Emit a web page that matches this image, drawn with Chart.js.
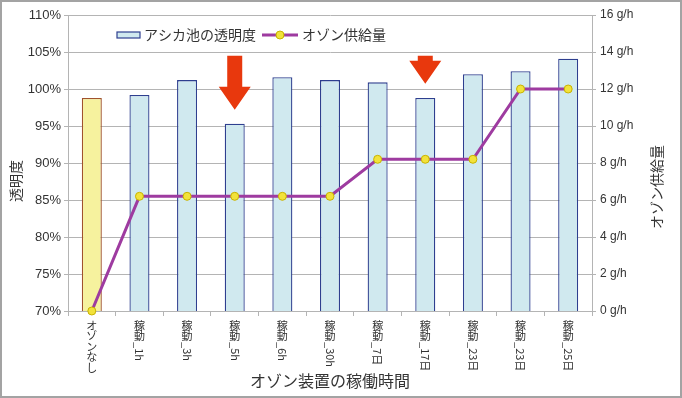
<!DOCTYPE html>
<html>
<head>
<meta charset="utf-8">
<script src="https://cdn.jsdelivr.net/npm/chart.js@4.4.1/dist/chart.umd.min.js"></script>
<style>
  html, body { margin: 0; padding: 0; background: #fff; }
  #wrap { width: 682px; height: 398px; position: relative; }
</style>
</head>
<body>
<div id="wrap"><canvas id="c" width="682" height="398"></canvas></div>
<script>
// ---- data ----
const categories = ["オゾンなし", "稼動_1h", "稼動_3h", "稼動_5h", "稼動_6h", "稼動_30h", "稼動_7日", "稼動_17日", "稼動_23日", "稼動_23日", "稼動_25日"];
const transparency = [98.8, 99.2, 101.2, 95.3, 101.6, 101.2, 100.9, 98.8, 102.0, 102.4, 104.1];
const ozoneSupply = [0, 6.2, 6.2, 6.2, 6.2, 6.2, 8.2, 8.2, 8.2, 12, 12];
const leftTicks = { min: 70, max: 110, step: 5 };
const rightTicks = { min: 0, max: 16, step: 2 };
const arrowIndexes = [3, 7];
const seriesNames = ["アシカ池の透明度", "オゾン供給量"];
const axisTitles = { x: "オゾン装置の稼働時間", y: "透明度", y1: "オゾン供給量" };

// ---- style ----
const JP = '"Noto Sans CJK JP", "Noto Sans", sans-serif';
const NUM = '"Liberation Sans", Arial, sans-serif';
const TXT = '#333333';
const GRID = '#B4B4B4';
const barFill = categories.map((c, i) => i === 0 ? '#F6F29E' : '#D0E9EF');
const barBorder = categories.map((c, i) => i === 0 ? '#A0522D' : '#2E3F8F');

const customDraw = {
  id: 'customDraw',
  afterDatasetsDraw(chart) {
    const ctx = chart.ctx;
    const xs = chart.scales.x, ys = chart.scales.y;
    const area = chart.chartArea;
    // arrows
    ctx.save();
    ctx.fillStyle = '#E8380D';
    arrowIndexes.forEach(i => {
      const cx = xs.getPixelForValue(i);
      const top = ys.getPixelForValue(104.5);
      const tip = ys.getPixelForValue(transparency[i] + 1.9);
      const headLen = 23, headHalf = 16, shaftHalf = 7.5;
      const base = tip - headLen;
      ctx.beginPath();
      ctx.moveTo(cx - shaftHalf, top);
      ctx.lineTo(cx + shaftHalf, top);
      ctx.lineTo(cx + shaftHalf, base);
      ctx.lineTo(cx + headHalf, base);
      ctx.lineTo(cx, tip);
      ctx.lineTo(cx - headHalf, base);
      ctx.lineTo(cx - shaftHalf, base);
      ctx.closePath();
      ctx.fill();
    });
    ctx.restore();

    // legend
    ctx.save();
    const ly = area.top + 20;
    let lx = area.left + 49;
    ctx.fillStyle = '#D0E9EF';
    ctx.strokeStyle = '#2E3F8F';
    ctx.lineWidth = 1.2;
    ctx.fillRect(lx, ly - 3, 23, 6);
    ctx.strokeRect(lx, ly - 3, 23, 6);
    ctx.fillStyle = TXT;
    ctx.font = '14px ' + JP;
    ctx.textBaseline = 'middle';
    ctx.textAlign = 'left';
    ctx.fillText(seriesNames[0], lx + 27, ly);
    lx = area.left + 194;
    ctx.strokeStyle = '#9E3BA0';
    ctx.lineWidth = 3;
    ctx.beginPath();
    ctx.moveTo(lx, ly);
    ctx.lineTo(lx + 36, ly);
    ctx.stroke();
    ctx.beginPath();
    ctx.arc(lx + 18, ly, 4, 0, Math.PI * 2);
    ctx.fillStyle = '#F2E23A';
    ctx.fill();
    ctx.lineWidth = 1;
    ctx.strokeStyle = '#C9B300';
    ctx.stroke();
    ctx.fillStyle = TXT;
    ctx.fillText(seriesNames[1], lx + 40, ly);
    ctx.restore();
  },
  afterDraw(chart) {
    const ctx = chart.ctx;
    const xs = chart.scales.x;
    const area = chart.chartArea;
    ctx.save();
    ctx.fillStyle = TXT;
    // x tick labels (vertical)
    ctx.font = '11px ' + JP;
    categories.forEach((lab, i) => {
      const x = xs.getPixelForValue(i);
      const u = lab.indexOf('_');
      const upright = u < 0 ? lab : lab.slice(0, u);
      const rotated = u < 0 ? '' : lab.slice(u);
      let y = area.bottom + 9;
      ctx.textAlign = 'center';
      ctx.textBaseline = 'top';
      for (const ch of upright) {
        ctx.fillText(ch, x, y);
        y += 10.5;
      }
      if (rotated) {
        ctx.save();
        ctx.translate(x, y + 1);
        ctx.rotate(Math.PI / 2);
        ctx.textAlign = 'left';
        ctx.textBaseline = 'middle';
        ctx.fillText(rotated, 0, 0);
        ctx.restore();
      }
    });
    // axis titles
    ctx.font = '16px ' + JP;
    ctx.textAlign = 'center';
    ctx.textBaseline = 'middle';
    ctx.fillText(axisTitles.x, (area.left + area.right) / 2, 381);
    ctx.font = '14px ' + JP;
    ctx.save();
    ctx.translate(16, 181);
    ctx.rotate(-Math.PI / 2);
    ctx.fillText(axisTitles.y, 0, 0);
    ctx.restore();
    ctx.save();
    ctx.translate(657, 187);
    ctx.rotate(-Math.PI / 2);
    ctx.fillText(axisTitles.y1, 0, 0);
    ctx.restore();
    // frame
    ctx.strokeStyle = '#A3A3A3';
    ctx.lineWidth = 2;
    ctx.strokeRect(1, 1, 680, 396);
    ctx.restore();
  }
};

new Chart(document.getElementById('c'), {
  type: 'bar',
  data: {
    labels: categories,
    datasets: [
      {
        type: 'line',
        label: seriesNames[1],
        data: ozoneSupply,
        yAxisID: 'y1',
        borderColor: '#9E3BA0',
        borderWidth: 3,
        pointRadius: 4,
        pointBackgroundColor: '#F2E23A',
        pointBorderColor: '#C9B300',
        pointBorderWidth: 1,
        tension: 0,
        clip: false,
        order: 0
      },
      {
        type: 'bar',
        label: seriesNames[0],
        data: transparency,
        yAxisID: 'y',
        backgroundColor: barFill,
        borderColor: barBorder,
        borderWidth: 1.3,
        barPercentage: 0.42,
        categoryPercentage: 1,
        order: 1
      }
    ]
  },
  options: {
    responsive: false,
    animation: false,
    devicePixelRatio: 1,
    layout: { padding: { top: 15, left: 0, right: 0, bottom: 0 } },
    plugins: { legend: { display: false }, tooltip: { enabled: false } },
    scales: {
      x: {
        offset: true,
        grid: { display: true, drawOnChartArea: false, offset: true, color: GRID, tickLength: 5 },
        border: { color: GRID, width: 1 },
        ticks: { display: false },
        afterFit(s) { s.height = 87; }
      },
      y: {
        position: 'left',
        min: leftTicks.min,
        max: leftTicks.max,
        ticks: {
          stepSize: leftTicks.step,
          callback: v => v + '%',
          font: { family: NUM, size: 13 },
          color: TXT,
          padding: 3
        },
        grid: { color: GRID, tickLength: 4 },
        border: { color: GRID },
        afterFit(s) { s.width = 68; }
      },
      y1: {
        position: 'right',
        min: rightTicks.min,
        max: rightTicks.max,
        ticks: {
          stepSize: rightTicks.step,
          callback: v => v + ' g/h',
          font: { family: NUM, size: 12 },
          color: TXT,
          padding: 4
        },
        grid: { drawOnChartArea: false, color: GRID, tickLength: 4 },
        border: { color: GRID },
        afterFit(s) { s.width = 90; }
      }
    }
  },
  plugins: [customDraw]
});
</script>
</body>
</html>
